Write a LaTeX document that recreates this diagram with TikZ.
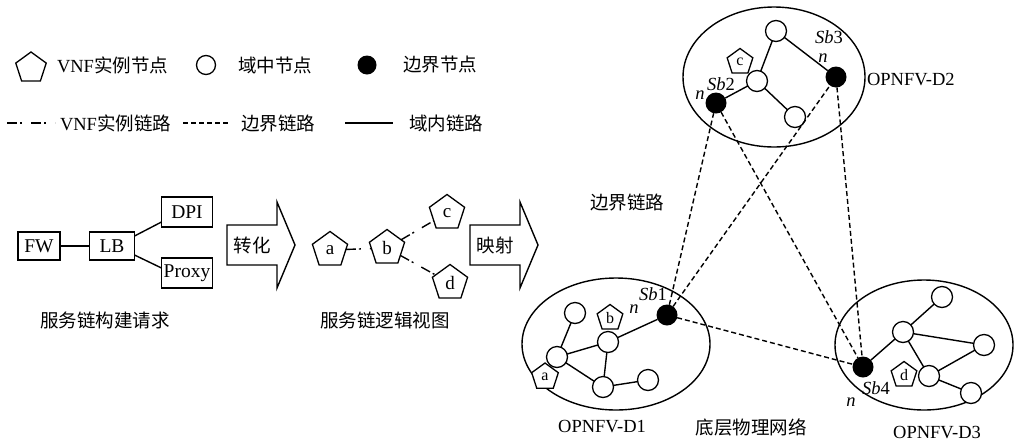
\documentclass[tikz,border=0pt]{standalone}
\usepackage{fontspec}
\setmainfont{Liberation Serif}
\newfontfamily\cjk{Noto Sans CJK SC}
\usetikzlibrary{shapes.geometric}
\begin{document}
\begin{tikzpicture}[x=1pt,y=-1pt,
  font=\fontsize{18.5}{20}\selectfont,
  every node/.style={inner sep=0pt, outer sep=0pt},
  ln/.style={line width=1.4pt},
  vnf/.style={regular polygon, regular polygon sides=5, draw, fill=white, line width=1.3pt, minimum size=#1, inner sep=0pt},
  vnf/.default=28pt,
  dn/.style={circle, draw, line width=1.3pt, fill=white, minimum size=21pt},
  bn/.style={circle, fill=black, minimum size=21pt},
  box/.style={draw, line width=1.3pt, minimum height=28pt, inner sep=2pt, font=\fontsize{19.5}{21}\selectfont},
  blink/.style={line width=1.4pt, dash pattern=on 5pt off 3pt},
  vlink/.style={line width=1.4pt, dash pattern=on 10pt off 3pt on 2pt off 9pt},
  lbl/.style={anchor=west},
  dom/.style={ellipse, draw, line width=1.4pt},
  arr/.style={draw, line width=1.4pt, line join=miter},
]
\useasboundingbox (0,0) rectangle (1016,445);

% ---------------- legend ----------------
\node[vnf=32pt] (legpent) at (31,68) {};
\node[lbl] (legt1) at (57,65) {VNF{\cjk 实例节点}};
\node[dn, minimum size=19pt] (legcirc) at (206,65) {};
\node[lbl] (legt2) at (238,65) {\cjk 域中节点};
\node[bn, minimum size=19pt] (legbn) at (367,65) {};
\node[lbl] (legt3) at (403,65) {\cjk 边界节点};

\coordinate (l1a) at (7,123);
\coordinate (l1b) at (55,123);
\draw[vlink] (l1a) -- (l1b);
\node[lbl] (legt4) at (60,123) {VNF{\cjk 实例链路}};
\coordinate (l2a) at (183,123);
\coordinate (l2b) at (228,123);
\draw[blink] (l2a) -- (l2b);
\node[lbl] (legt5) at (241,123) {\cjk 边界链路};
\coordinate (l3a) at (345,123);
\coordinate (l3b) at (393,123);
\draw[ln] (l3a) -- (l3b);
\node[lbl] (legt6) at (409,123) {\cjk 域内链路};

% ---------------- service chain request ----------------
\node[box, minimum width=42pt] (FW) at (39,246) {FW};
\node[box, minimum width=45pt] (LB) at (112,246) {LB};
\node[box, minimum width=51pt, minimum height=30pt] (DPI) at (187,212) {DPI};
\node[box, minimum width=51pt, minimum height=30pt] (Proxy) at (187,273) {Proxy};
\draw[ln] (FW.east) -- (LB.west);
\draw[ln] ([yshift=-4pt]LB.north east) -- ([yshift=5pt]DPI.south west);
\draw[ln] ([yshift=5pt]LB.south east) -- ([yshift=-10pt]Proxy.north west);
\node (req) at (105,320) {\cjk 服务链构建请求};

% arrow 1
\draw[arr] (227,225) -- (277,225) -- (277,202) -- (295,245) -- (277,288) -- (277,265) -- (227,265) -- cycle;
\node (conv) at (252,245) {\cjk 转化};

% ---------------- logical view ----------------
\node[vnf=37pt, font=\fontsize{19}{20}\selectfont] (pa) at (330,250) {a};
\node[vnf=37pt, font=\fontsize{19}{20}\selectfont] (pb) at (387,248) {b};
\node[vnf=37pt, font=\fontsize{19}{20}\selectfont] (pc) at (447,213) {c};
\node[vnf=37pt, font=\fontsize{19}{20}\selectfont] (pd) at (450,283) {d};
\draw[vlink] (pa) -- (pb);
\draw[vlink] (pb) -- (pc);
\draw[vlink] (pb) -- (pd);
\node (view) at (385,320) {\cjk 服务链逻辑视图};

% arrow 2
\draw[arr] (470,225) -- (520,225) -- (520,202) -- (538,245) -- (520,288) -- (520,265) -- (470,265) -- cycle;
\node (map) at (495,245) {\cjk 映射};

% ---------------- domains ----------------
\node[dom, minimum width=182pt, minimum height=140pt] (D2) at (774,77) {};
\node[dom, minimum width=188pt, minimum height=132pt] (D1) at (616,344) {};
\node[dom, minimum width=178pt, minimum height=130pt] (D3) at (924,345) {};

% D2
\node[dn] (d2t) at (776,31) {};
\node[dn] (d2m) at (757,81) {};
\node[dn] (d2l) at (795,117) {};
\node[bn] (sb2) at (716,103) {};
\node[bn] (sb3) at (836,77) {};
\node[vnf=27pt, font=\fontsize{16}{17}\selectfont] (p2c) at (740,62) {c};
\draw[ln] (d2t) -- (d2m);
\draw[ln] (d2m) -- (sb2);
\draw[ln] (d2m) -- (d2l);
\draw[ln] (d2t) -- (sb3);
\node (sb2l) at (721,84) {\textit{Sb}2};
\node (sb2n) at (700,95) {\textit{n}};
\node (sb3l) at (829,37) {\textit{Sb}3};
\node (sb3n) at (823,58) {\textit{n}};
\node[lbl] (D2l) at (867,80) {OPNFV-D2};

% D1
\node[dn] (d1tl) at (575,313) {};
\node[dn] (d1h) at (557,357) {};
\node[dn] (d1c) at (608,342) {};
\node[dn] (d1b) at (603,387) {};
\node[dn] (d1r) at (648,380) {};
\node[bn] (sb1) at (667,315) {};
\draw[ln] (d1tl) -- (d1h);
\draw[ln] (d1h) -- (d1c);
\draw[ln] (d1h) -- (d1b);
\draw[ln] (d1c) -- (d1b);
\draw[ln] (d1c) -- (sb1);
\draw[ln] (d1b) -- (d1r);
\node[vnf=27pt, font=\fontsize{16}{17}\selectfont] (p1b) at (610,318) {b};
\node[vnf=28pt, font=\fontsize{16}{17}\selectfont] (p1a) at (545,377) {a};
\node (sb1l) at (653,294) {\textit{Sb}1};
\node (sb1n) at (634,309) {\textit{n}};
\node (D1l) at (602,427) {OPNFV-D1};
\node (net) at (751,427) {\cjk 底层物理网络};

% D3
\node[bn] (sb4) at (863,367) {};
\node[dn] (d3h) at (903,332) {};
\node[dn] (d3t) at (942,297) {};
\node[dn] (d3r) at (984,345) {};
\node[dn] (d3m) at (929,376) {};
\node[dn] (d3br) at (971,393) {};
\draw[ln] (sb4) -- (d3h);
\draw[ln] (d3h) -- (d3t);
\draw[ln] (d3h) -- (d3r);
\draw[ln] (d3h) -- (d3m);
\draw[ln] (d3m) -- (d3r);
\draw[ln] (d3m) -- (d3br);
\node[vnf=27pt, font=\fontsize{16}{17}\selectfont] (p3d) at (904,375) {d};
\node (sb4l) at (876,388) {\textit{Sb}4};
\node (sb4n) at (851,402) {\textit{n}};
\node (D3l) at (937,433) {OPNFV-D3};

% border links
\draw[blink] (sb1) -- (sb2);
\draw[blink] (sb1) -- (sb3);
\draw[blink] (sb2) -- (sb4);
\draw[blink] (sb3) -- (sb4);
\draw[blink] (sb1) -- (sb4);
\node (bl) at (627,202) {\cjk 边界链路};
\end{tikzpicture}
\end{document}
